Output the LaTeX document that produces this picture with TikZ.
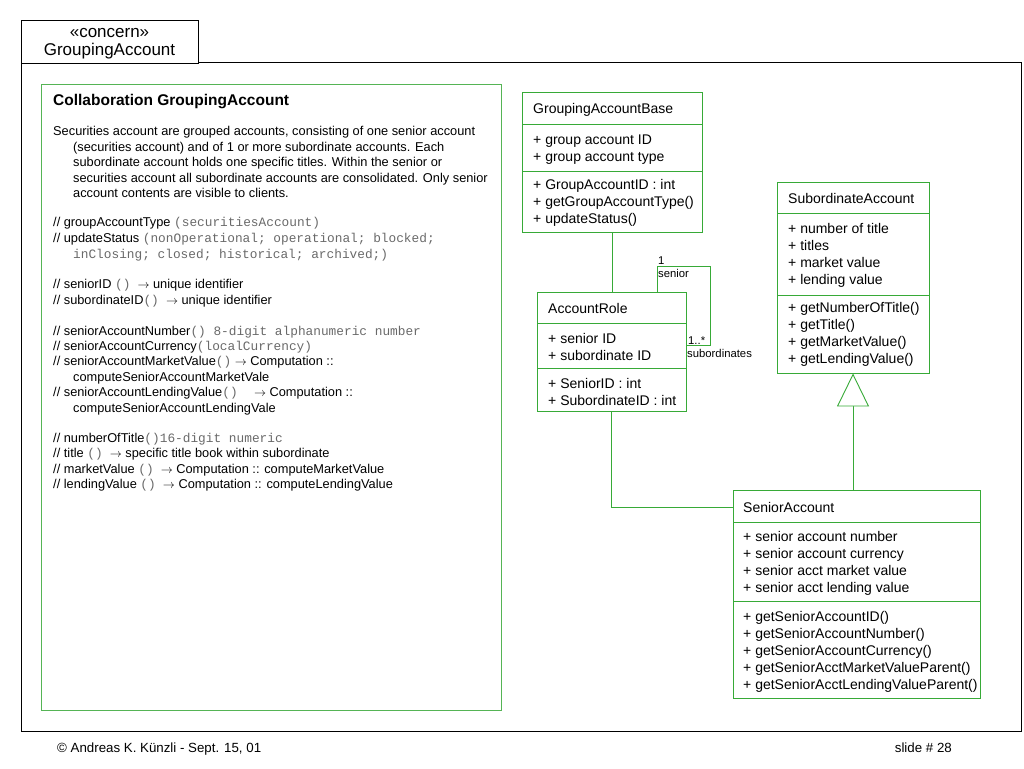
\documentclass[tikz,border=0pt]{standalone}
\usepackage{fontspec}
\setmainfont{Liberation Sans}
\newfontfamily\monofont{Liberation Mono}
\usetikzlibrary{arrows.meta}
\definecolor{umlgreen}{RGB}{55,170,55}
\definecolor{boxgreen}{RGB}{85,180,85}
\definecolor{monogray}{RGB}{105,105,105}
\newcommand\mtx[1]{{\monofont\color{monogray}#1}}
\newcommand\rarr{$\rightarrow$}
\begin{document}
\begin{tikzpicture}[x=1pt,y=-1pt,
  cls/.style={draw=umlgreen, line width=0.9pt, fill=white, inner sep=0pt},
  div/.style={draw=umlgreen, line width=0.9pt},
  conn/.style={draw=umlgreen, line width=0.9pt},
  mem/.style={anchor=base west, inner sep=0pt, font=\fontsize{14}{16}\selectfont},
  bodytxt/.style={anchor=base west, inner sep=0pt, font=\fontsize{12.8}{15}\selectfont},
  lbl/.style={anchor=base west, inner sep=0pt, font=\fontsize{11.3}{13}\selectfont},
  foottxt/.style={inner sep=0pt, font=\fontsize{13.3}{15}\selectfont},
  frm/.style={draw=black, line width=0.9pt}]
\useasboundingbox (0,0) rectangle (1024,768);

% frame and tab
\draw[frm] (21,62) rectangle (1021,731);
\node[frm, fill=white, minimum width=177pt, minimum height=43pt, inner sep=0pt] (tab) at (109.5,41.5) {};
\node[inner sep=0pt, align=center, font=\fontsize{17}{18}\selectfont] (tabtxt) at (109.5,44)
      {«concern»\\GroupingAccount};

% collaboration text box
\node[draw=boxgreen, line width=0.9pt, minimum width=460pt, minimum height=626pt,
      anchor=north west, inner sep=0pt] (collab) at (41,84) {};
\node[anchor=base west, inner sep=0pt, font=\bfseries\fontsize{15.5}{17}\selectfont]
  (ctitle) at (53,105) {Collaboration GroupingAccount};
\node[bodytxt] (t1) at (53,135.6) {Securities account are grouped accounts, consisting of one senior account};
\node[bodytxt] (t2) at (73,151) {(securities account) and of 1 or more subordinate accounts. Each};
\node[bodytxt] (t3) at (73,166.5) {subordinate account holds one specific titles. Within the senior or};
\node[bodytxt] (t4) at (73,182) {securities account all subordinate accounts are consolidated. Only senior};
\node[bodytxt] (t5) at (73,197.5) {account contents are visible to clients.};
\node[bodytxt] (t6) at (53,226.5) {// groupAccountType \mtx{(securitiesAccount)}};
\node[bodytxt] (t7) at (53,242.5) {// updateStatus \mtx{(nonOperational; operational; blocked;}};
\node[bodytxt] (t8) at (73,258.5) {\mtx{inClosing; closed; historical; archived;)}};
\node[bodytxt] (t9) at (53,288.5) {// seniorID \mtx{()} \ \rarr{} unique identifier};
\node[bodytxt] (t10) at (53,304.5) {// subordinateID\mtx{()} \ \rarr{} unique identifier};
\node[bodytxt] (t11) at (53,335.5) {// seniorAccountNumber\mtx{() 8-digit alphanumeric number}};
\node[bodytxt] (t12) at (53,350.5) {// seniorAccountCurrency\mtx{(localCurrency)}};
\node[bodytxt] (t13) at (53,365.5) {// seniorAccountMarketValue\mtx{()} \rarr{} Computation ::};
\node[bodytxt] (t14) at (73,381.5) {computeSeniorAccountMarketVale};
\node[bodytxt] (t15) at (53,396.5) {// seniorAccountLendingValue\mtx{()} \quad\rarr{} Computation ::};
\node[bodytxt] (t16) at (73,412.5) {computeSeniorAccountLendingVale};
\node[bodytxt] (t17) at (53,442.5) {// numberOfTitle\mtx{()16-digit numeric}};
\node[bodytxt] (t18) at (53,457.5) {// title \mtx{()} \ \rarr{} specific title book within subordinate};
\node[bodytxt] (t19) at (53,473.5) {// marketValue \mtx{()} \ \rarr{} Computation :: computeMarketValue};
\node[bodytxt] (t20) at (53,488.5) {// lendingValue \mtx{()} \ \rarr{} Computation :: computeLendingValue};

% GroupingAccountBase
\node[cls, minimum width=180pt, minimum height=140pt] (gab) at (612,162) {};
\draw[div] (522,124) -- (702,124);
\draw[div] (522,171) -- (702,171);
\node[mem] (gab0) at (533,113) {GroupingAccountBase};
\node[mem] (gab1) at (533,144) {+ group account ID};
\node[mem] (gab2) at (533,161) {+ group account type};
\node[mem] (gab3) at (533,189) {+ GroupAccountID : int};
\node[mem] (gab4) at (533,206) {+ getGroupAccountType()};
\node[mem] (gab5) at (533,223) {+ updateStatus()};

% AccountRole
\node[cls, minimum width=149pt, minimum height=119pt] (role) at (611.5,351.5) {};
\draw[div] (537,323) -- (686,323);
\draw[div] (537,368) -- (686,368);
\node[mem] (role0) at (548,313) {AccountRole};
\node[mem] (role1) at (548,343) {+ senior ID};
\node[mem] (role2) at (548,360) {+ subordinate ID};
\node[mem] (role3) at (548,388) {+ SeniorID : int};
\node[mem] (role4) at (548,405) {+ SubordinateID : int};

% SubordinateAccount
\node[cls, minimum width=152pt, minimum height=191pt] (sub) at (853,277.5) {};
\draw[div] (777,213) -- (929,213);
\draw[div] (777,295) -- (929,295);
\node[mem] (sub0) at (788,203) {SubordinateAccount};
\node[mem] (sub1) at (788,233) {+ number of title};
\node[mem] (sub2) at (788,250) {+ titles};
\node[mem] (sub3) at (788,267) {+ market value};
\node[mem] (sub4) at (788,284) {+ lending value};
\node[mem] (sub5) at (788,312) {+ getNumberOfTitle()};
\node[mem] (sub6) at (788,329) {+ getTitle()};
\node[mem] (sub7) at (788,346) {+ getMarketValue()};
\node[mem] (sub8) at (788,363) {+ getLendingValue()};

% SeniorAccount
\node[cls, minimum width=247pt, minimum height=208pt] (sen) at (856.5,594) {};
\draw[div] (733,522) -- (980,522);
\draw[div] (733,601) -- (980,601);
\node[mem] (sen0) at (743,512) {SeniorAccount};
\node[mem] (sen1) at (743,541) {+ senior account number};
\node[mem] (sen2) at (743,558) {+ senior account currency};
\node[mem] (sen3) at (743,575) {+ senior acct market value};
\node[mem] (sen4) at (743,592) {+ senior acct lending value};
\node[mem] (sen5) at (743,621) {+ getSeniorAccountID()};
\node[mem] (sen6) at (743,638) {+ getSeniorAccountNumber()};
\node[mem] (sen7) at (743,655) {+ getSeniorAccountCurrency()};
\node[mem] (sen8) at (743,672) {+ getSeniorAcctMarketValueParent()};
\node[mem] (sen9) at (743,689) {+ getSeniorAcctLendingValueParent()};

% connectors
\draw[conn] (gab.south) -- (gab.south |- role.north);
\coordinate (sa1) at (657,266);
\coordinate (sa2) at (710,266);
\coordinate (sa3) at (710,345);
\draw[conn] (role.north -| sa1) -- (sa1) -- (sa2) -- (sa3) -- (role.east |- sa3);
\node[lbl] (m1) at (658,264) {1};
\node[lbl] (r1) at (658,277) {senior};
\node[lbl] (m2) at (688,344) {1..*};
\node[lbl] (r2) at (687,357) {subordinates};
\coordinate (sc) at (733,507);
\draw[conn] (role.south) |- (sc);
\draw[conn, -{Triangle[length=33pt, width=32pt, fill=white]}] (sen.north -| sub.south) -- (sub.south);

% footer
\node[foottxt, anchor=base west] (foot1) at (57,752) {© Andreas K. Künzli - Sept. 15, 01};
\node[foottxt, anchor=base east] (foot2) at (952,752) {slide \# 28};
\end{tikzpicture}
\end{document}
